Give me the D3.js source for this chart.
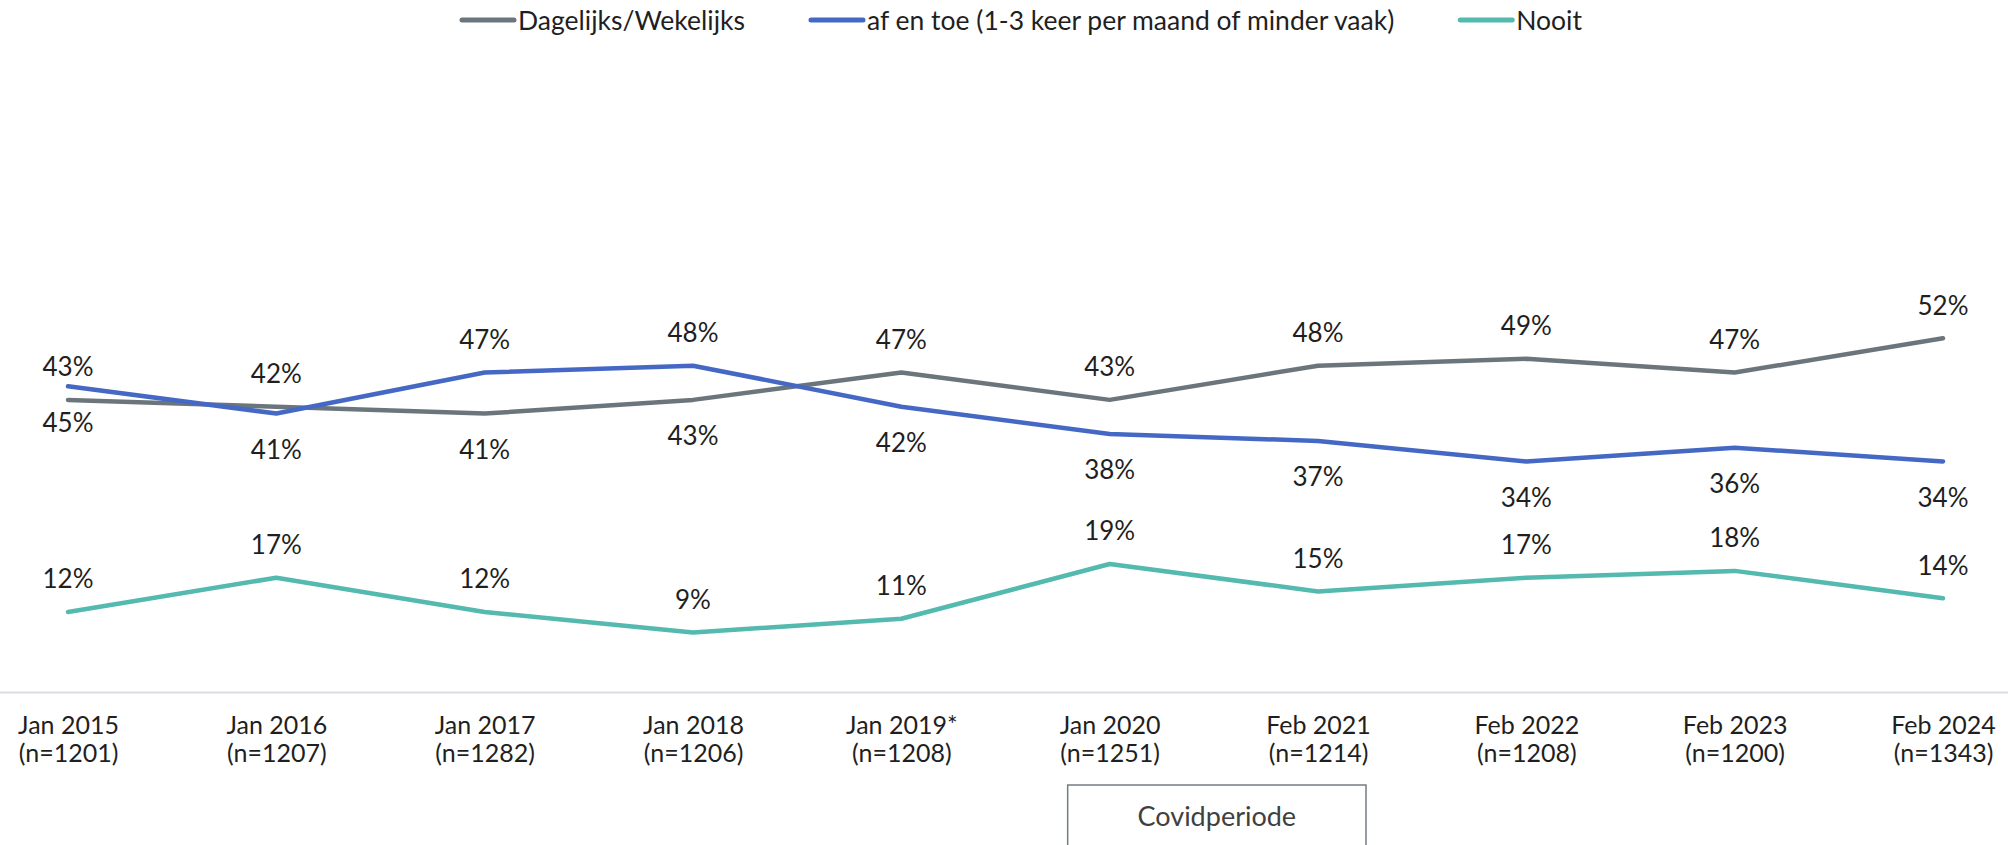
<!DOCTYPE html>
<html>
<head>
<meta charset="utf-8">
<script src="https://cdn.jsdelivr.net/npm/d3@7"></script>
<style>
  html, body { margin: 0; padding: 0; background: #fff; }
  svg { display: block; font-family: Lato, "Open Sans", sans-serif; }
</style>
</head>
<body>
<svg id="chart" width="2008" height="845"></svg>
<script>
// ---- data ----
const categories = ["Jan 2015", "Jan 2016", "Jan 2017", "Jan 2018", "Jan 2019*", "Jan 2020", "Feb 2021", "Feb 2022", "Feb 2023", "Feb 2024"];
const sampleSizes = ["(n=1201)", "(n=1207)", "(n=1282)", "(n=1206)", "(n=1208)", "(n=1251)", "(n=1214)", "(n=1208)", "(n=1200)", "(n=1343)"];
const seriesNames = ["Dagelijks/Wekelijks", "af en toe (1-3 keer per maand of minder vaak)", "Nooit"];
const dagelijks = [43, 42, 41, 43, 47, 43, 48, 49, 47, 52];
const afEnToe   = [45, 41, 47, 48, 42, 38, 37, 34, 36, 34];
const nooit     = [12, 17, 12, 9, 11, 19, 15, 17, 18, 14];
// label placement (1 = above point, -1 = below point)
const dagelijksPlace = [1, 1, -1, -1, 1, 1, 1, 1, 1, 1];
const afEnToePlace   = [-1, -1, 1, 1, -1, -1, -1, -1, -1, -1];
const nooitPlace     = [1, 1, 1, 1, 1, 1, 1, 1, 1, 1];
const covidLabel = "Covidperiode";

// ---- layout ----
const W = 2008, H = 845;
const colors = ["#6b767c", "#4468c4", "#54b9ae"];
const svg = d3.select("#chart");

const x = d3.scalePoint().domain(categories).range([68, 1943]);
const y = d3.scaleLinear().domain([0, 100]).range([694, 10]);

const series = [
  { name: seriesNames[0], values: dagelijks, place: dagelijksPlace, color: colors[0] },
  { name: seriesNames[1], values: afEnToe, place: afEnToePlace, color: colors[1] },
  { name: seriesNames[2], values: nooit, place: nooitPlace, color: colors[2] }
];

// axis baseline
svg.append("line")
  .attr("x1", 0).attr("x2", W)
  .attr("y1", 692.5).attr("y2", 692.5)
  .attr("stroke", "#d9dde1").attr("stroke-width", 2);

// x axis
const xAxis = svg.append("g")
  .attr("transform", "translate(0,692)")
  .call(d3.axisBottom(x).tickSize(0).tickPadding(0));
xAxis.select(".domain").remove();
xAxis.selectAll(".tick text").each(function(d, i) {
  const t = d3.select(this);
  t.text(null)
   .attr("y", 0).attr("dy", null)
   .attr("fill", "#1f1f1f")
   .style("font-size", "25px")
   .style("font-family", "Lato, sans-serif");
  t.append("tspan").attr("x", 0).attr("y", 42).text(d);
  t.append("tspan").attr("x", 0).attr("y", 70).text(sampleSizes[i]);
});

// lines
const line = d3.line()
  .x((d, i) => x(categories[i]))
  .y(d => y(d));

series.forEach(s => {
  svg.append("path")
    .datum(s.values)
    .attr("d", line)
    .attr("fill", "none")
    .attr("stroke", s.color)
    .attr("stroke-width", 4.5)
    .attr("stroke-linejoin", "round")
    .attr("stroke-linecap", "round");
});

// data labels
series.forEach(s => {
  svg.append("g").selectAll("text")
    .data(s.values)
    .join("text")
    .attr("x", (d, i) => x(categories[i]))
    .attr("y", (d, i) => y(d) + (s.place[i] > 0 ? -33 : 36))
    .attr("dy", "0.36em")
    .attr("text-anchor", "middle")
    .attr("fill", "#1f1f1f")
    .style("font-size", "26px")
    .text(d => d + "%");
});

// legend
const legend = svg.append("g").attr("transform", "translate(460,20)");
let lx = 0;
series.forEach(s => {
  const g = legend.append("g").attr("transform", `translate(${lx},0)`);
  g.append("line")
    .attr("x1", 2).attr("x2", 54).attr("y1", 0).attr("y2", 0)
    .attr("stroke", s.color).attr("stroke-width", 5).attr("stroke-linecap", "round");
  const t = g.append("text")
    .attr("x", 58).attr("y", 0).attr("dy", "0.36em")
    .attr("fill", "#1f1f1f")
    .style("font-size", "26.5px")
    .text(s.name);
  lx += 58 + t.node().getComputedTextLength() + 64;
});

// Covid period box
const bx0 = x("Jan 2020") - 42, bx1 = x("Feb 2021") + 48;
svg.append("rect")
  .attr("x", bx0).attr("y", 785)
  .attr("width", bx1 - bx0).attr("height", 80)
  .attr("fill", "#fff")
  .attr("stroke", "#747c82").attr("stroke-width", 1.5);
svg.append("text")
  .attr("x", (bx0 + bx1) / 2).attr("y", 816)
  .attr("dy", "0.36em")
  .attr("text-anchor", "middle")
  .attr("fill", "#404040")
  .style("font-size", "27px")
  .text(covidLabel);
</script>
</body>
</html>
